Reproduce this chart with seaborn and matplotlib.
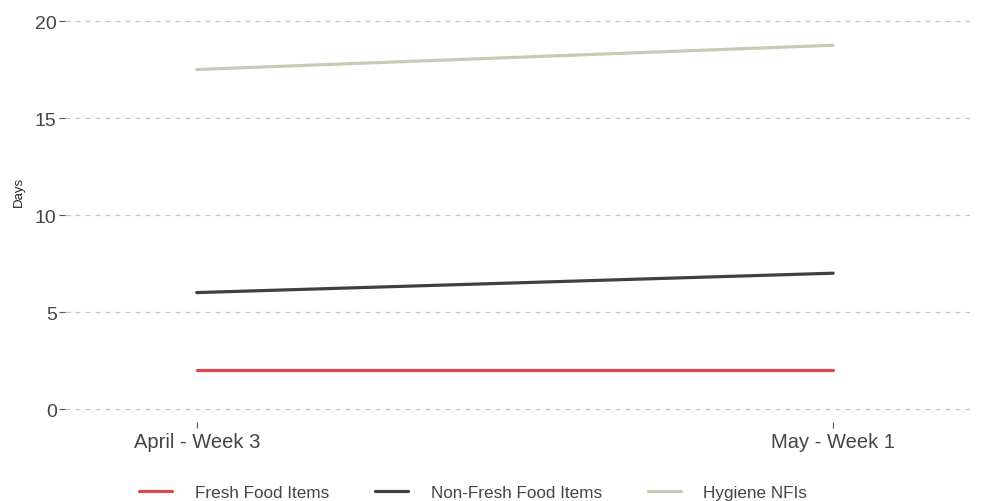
import matplotlib
matplotlib.use("Agg")
import matplotlib.pyplot as plt
import seaborn as sns
import pandas as pd

# Median number of days of stock available, by item group
periods = ["April - Week 3", "May - Week 1"]
fresh_food = [2, 2]
non_fresh_food = [6, 7]
hygiene_nfis = [17.5, 18.75]

series_names = ["Fresh Food Items", "Non-Fresh Food Items", "Hygiene NFIs"]
series_colors = ["#E0474C", "#404040", "#CACAB2"]
y_ticks = [0, 5, 10, 15, 20]

df = pd.DataFrame({
    "period": periods * 3,
    "pos": list(range(len(periods))) * 3,
    "days": fresh_food + non_fresh_food + hygiene_nfis,
    "item": [n for n in series_names for _ in periods],
})

sns.set_theme(style="white")
plt.rcParams["font.family"] = ["Liberation Sans", "DejaVu Sans"]

W, H = 984, 502
fig = plt.figure(figsize=(W / 100, H / 100), dpi=100)
left_px, right_px, top_px, bottom_px = 65, 970, 2.6, 423
ax = fig.add_axes([left_px / W, 1 - bottom_px / H,
                   (right_px - left_px) / W, (bottom_px - top_px) / H])

sns.lineplot(data=df, x="pos", y="days", hue="item", hue_order=series_names,
             palette=series_colors, linewidth=2.3, ax=ax, legend=True)

ax.set_xlim(-0.207, 1.215)
ax.set_ylim(-0.67, 21)
ax.set_xticks(range(len(periods)))
ax.set_xticklabels(periods)
ax.set_yticks(y_ticks)
ax.set_xlabel("")
ax.set_ylabel("Days", fontsize=9.5, color="#222222")
ax.yaxis.set_label_coords(-0.044, 0.55)

for s in ax.spines.values():
    s.set_visible(False)
ax.yaxis.grid(True, linestyle=(0, (4, 4)), color="#C4C4C4", linewidth=0.9)
ax.xaxis.grid(False)
ax.tick_params(axis="y", length=4, width=0.8, color="#555555", pad=2,
               labelsize=14, labelcolor="#444444", left=True)
ax.tick_params(axis="x", length=4, width=0.8, color="#555555", pad=3,
               labelsize=14.5, labelcolor="#444444", bottom=True, direction="out")

handles, labels = ax.get_legend_handles_labels()
ax.legend(handles, labels, loc="center", bbox_to_anchor=(0.451, -0.168),
          ncol=3, frameon=False, fontsize=12.3, handlelength=1.95,
          columnspacing=2.7, handletextpad=1.3, labelcolor="#444444")

fig.savefig("out.png", dpi=100)
